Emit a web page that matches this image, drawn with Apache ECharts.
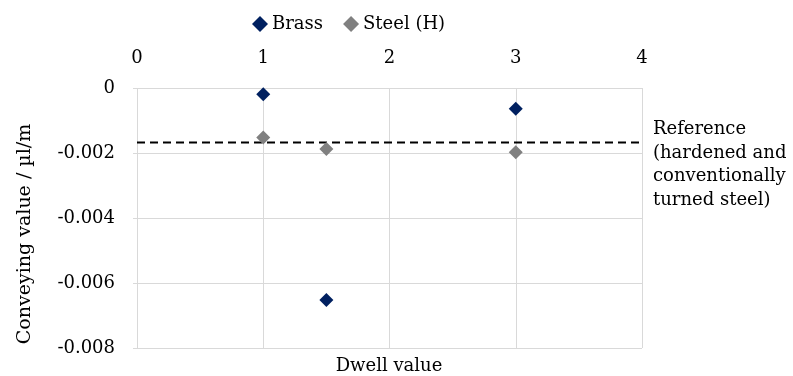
<!DOCTYPE html>
<html><head><meta charset="utf-8">
<script src="https://cdn.jsdelivr.net/npm/echarts@6/dist/echarts.min.js"></script>
<style>html,body{margin:0;padding:0;background:#fff}#c{width:793px;height:376px}</style>
</head><body><div id="c"></div>
<script>
const xTicks = [0, 1, 2, 3, 4];
const yTicks = [0, -0.002, -0.004, -0.006, -0.008];
const brassX = [1, 1.5, 3];
const brassY = [-0.00019, -0.00652, -0.00064];
const steelX = [1, 1.5, 3];
const steelY = [-0.00152, -0.00188, -0.00198];
const referenceValue = -0.00168;
const referenceLabel = ['Reference', '(hardened and', 'conventionally', 'turned steel)'];
const xTitle = 'Dwell value';
const yTitle = 'Conveying value / µl/m';

const FONT = 'DejaVu Serif';
const FS = 18;
const chart = echarts.init(document.getElementById('c'));
chart.setOption({
  animation: false,
  textStyle: { fontFamily: FONT },
  legend: {
    top: 10, left: 247,
    itemWidth: 16, itemHeight: 16, itemGap: 20,
    textStyle: { fontFamily: FONT, fontSize: FS, color: '#000', padding: [0, 0, 0, -1] },
    data: [{ name: 'Brass', icon: 'diamond' }, { name: 'Steel (H)', icon: 'diamond' }]
  },
  grid: { left: 137, right: 151, top: 88, bottom: 28, containLabel: false, outerBoundsMode: 'none' },
  xAxis: {
    type: 'value', position: 'top', min: xTicks[0], max: xTicks[xTicks.length - 1], interval: 1,
    axisLine: { show: false }, axisTick: { show: false },
    axisLabel: { fontFamily: FONT, fontSize: FS, color: '#000', margin: 21 },
    splitLine: { lineStyle: { color: '#d9d9d9', width: 1 } }
  },
  yAxis: {
    type: 'value', min: yTicks[yTicks.length - 1], max: yTicks[0], interval: 0.002,
    axisLine: { show: false },
    axisTick: { show: true, length: 4, lineStyle: { color: '#d9d9d9' } },
    axisLabel: { fontFamily: FONT, fontSize: FS, color: '#000', margin: 22,
      formatter: v => v === 0 ? '0' : v.toFixed(3) },
    splitLine: { lineStyle: { color: '#d9d9d9', width: 1 } }
  },
  series: [{
    name: 'Brass', type: 'scatter', symbol: 'diamond', symbolSize: 14,
    itemStyle: { color: '#002060', opacity: 1 },
    data: brassX.map((x, i) => [x, brassY[i]])
  }, {
    name: 'Steel (H)', type: 'scatter', symbol: 'diamond', symbolSize: 14,
    itemStyle: { color: '#808080', opacity: 1 },
    data: steelX.map((x, i) => [x, steelY[i]])
  }, {
    name: 'Reference', type: 'line', symbol: 'none', silent: true, z: 1,
    lineStyle: { color: '#000', type: [8, 5], width: 2 },
    data: [[xTicks[0], referenceValue], [xTicks[xTicks.length - 1], referenceValue]]
  }],
  graphic: [{
    type: 'text', left: 653, top: 118,
    style: { text: referenceLabel.join('\n'), font: FS + 'px "' + FONT + '"', fill: '#000', lineHeight: 23.5 }
  }, {
    type: 'text', x: 25, y: 234, rotation: Math.PI / 2,
    style: { text: yTitle, font: '19px "' + FONT + '"', fill: '#000', align: 'center', verticalAlign: 'middle' }
  }, {
    type: 'text', x: 389, y: 366,
    style: { text: xTitle, font: FS + 'px "' + FONT + '"', fill: '#000', align: 'center', verticalAlign: 'middle' }
  }]
});
</script></body></html>
